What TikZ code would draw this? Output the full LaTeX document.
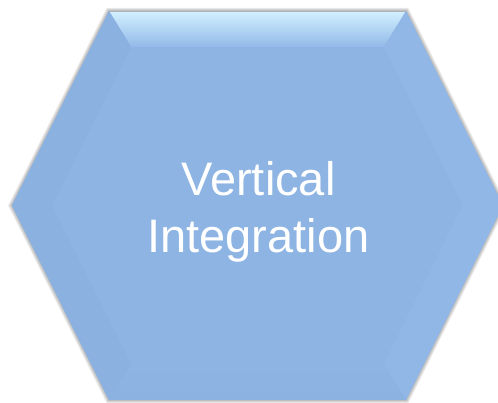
\documentclass[tikz,border=0pt]{standalone}
\usepackage{fontspec}
\setmainfont{Liberation Sans}
\usetikzlibrary{calc}
\definecolor{hexface}{RGB}{141,180,226}
\definecolor{hextop}{RGB}{210,240,255}
\definecolor{hextopdark}{RGB}{146,186,232}
\definecolor{hexleft}{RGB}{138,177,224}
\definecolor{hexright}{RGB}{144,183,229}
\definecolor{hexbottom}{RGB}{139,178,224}
\begin{document}
\begin{tikzpicture}[x=1pt, y=1pt,
    facet/.style={draw=none},
    softshadow/.style={fill=black, opacity=0.07},
    label/.style={text=white, align=center, font=\fontsize{47}{57}\selectfont}
]
    \useasboundingbox (0,0) rectangle (498,403);
    % outer corners
    \coordinate (o1) at (109,392);
    \coordinate (o2) at (406,392);
    \coordinate (o3) at (503,197.5);
    \coordinate (o4) at (406,3);
    \coordinate (o5) at (109,3);
    \coordinate (o6) at (12,197.5);
    % inner corners of the bevel
    \coordinate (i1) at (131.2,356);
    \coordinate (i2) at (383.8,356);
    \coordinate (i3) at (462.8,197.5);
    \coordinate (i4) at (383.8,39);
    \coordinate (i5) at (131.2,39);
    \coordinate (i6) at (52.2,197.5);
    \coordinate (mid) at (257.5,197.5);
    % soft shadow
    \foreach \s in {1,...,4}
        \fill[softshadow, shift={(0.4*\s,-0.8*\s)}] ($(mid)!1+0.004*\s!(o1)$) -- ($(mid)!1+0.004*\s!(o2)$)
            -- ($(mid)!1+0.004*\s!(o3)$) -- ($(mid)!1+0.004*\s!(o4)$)
            -- ($(mid)!1+0.004*\s!(o5)$) -- ($(mid)!1+0.004*\s!(o6)$) -- cycle;
    % faces
    \fill[hexface] (o1) -- (o2) -- (o3) -- (o4) -- (o5) -- (o6) -- cycle;
    \shade[facet, top color=hextop, bottom color=hextopdark] (o1) -- (o2) -- (i2) -- (i1) -- cycle;
    \fill[facet, hexleft] (o1) -- (i1) -- (i6) -- (o6) -- cycle;
    \fill[facet, hexleft] (o6) -- (i6) -- (i5) -- (o5) -- cycle;
    \fill[facet, hexright] (o2) -- (o3) -- (i3) -- (i2) -- cycle;
    \fill[facet, hexright] (o3) -- (o4) -- (i4) -- (i3) -- cycle;
    \shade[facet, top color=hexface, bottom color=hexbottom] (i5) -- (i4) -- (o4) -- (o5) -- cycle;
    \draw[gray!60, line width=0.8pt] (o1) -- (o2);
    \node[label] (title) at (258.5,191.4) {Vertical\\Integration};
\end{tikzpicture}
\end{document}
